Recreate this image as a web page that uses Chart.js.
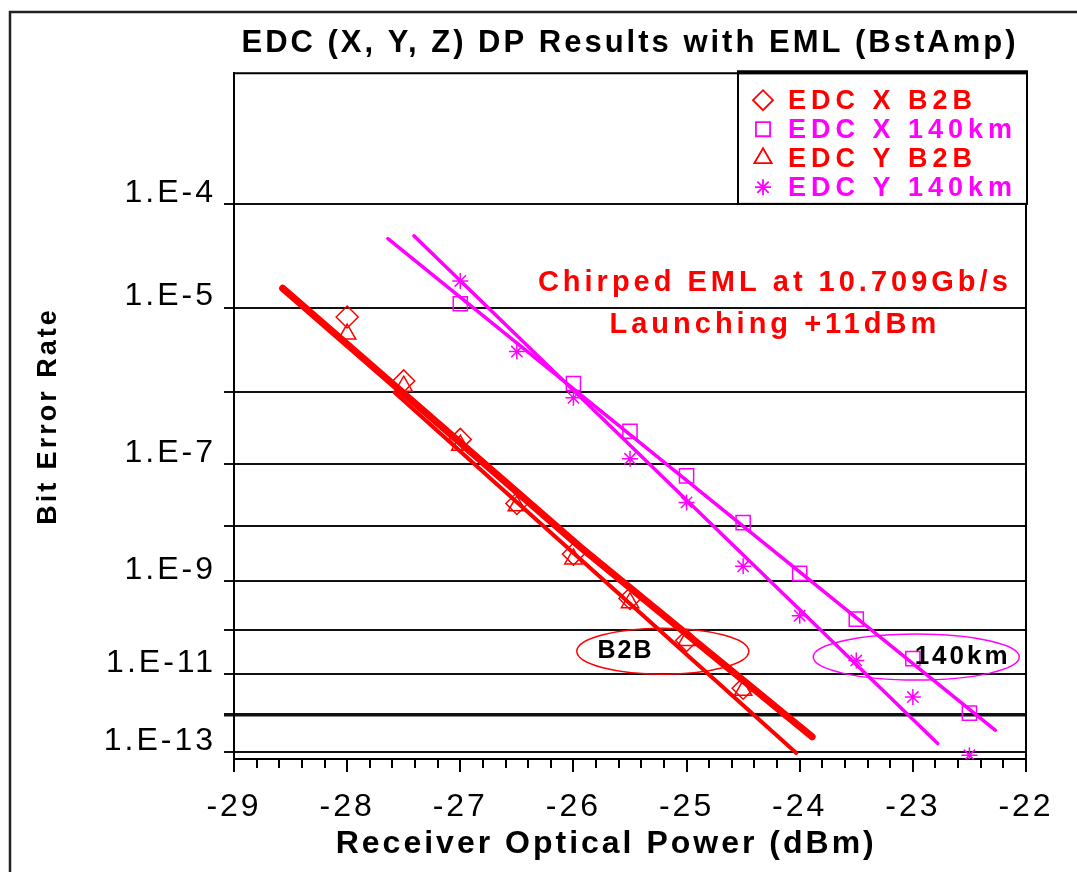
<!DOCTYPE html>
<html>
<head>
<meta charset="utf-8">
<script src="https://cdn.jsdelivr.net/npm/chart.js"></script>
<style>
html,body{margin:0;padding:0;background:#fff;}
#wrap{width:1077px;height:872px;position:relative;}
</style>
</head>
<body>
<div id="wrap"><canvas id="c" width="1077" height="872"></canvas></div>
<script>
// ---------- texts ----------
const chartTitle = 'EDC (X, Y, Z) DP Results with EML (BstAmp)';
const xAxisTitle = 'Receiver Optical Power (dBm)';
const yAxisTitle = 'Bit Error Rate';
const noteLines = ['Chirped EML at 10.709Gb/s', 'Launching +11dBm'];
const b2bNote = 'B2B';
const kmNote = '140km';

// ---------- axes ----------
const xTickValues = [-29, -28, -27, -26, -25, -24, -23, -22];
const berGridExps = [4, 5, 6, 7, 8, 9, 10, 11, 12, 13];
const berLabelExps = [4, 5, 7, 9, 11, 13];

// ---------- series ----------
const seriesLabels = ['EDC X B2B', 'EDC X 140km', 'EDC Y B2B', 'EDC Y 140km'];
const b2bPower = [-28, -27.5, -27, -26.5, -26, -25.5, -25, -24.5];
const edcXB2B = [7.9e-6, 1.4e-6, 2.3e-7, 2.4e-8, 3.2e-9, 4.5e-10, 5.9e-11, 4.6e-12];
const edcYB2B = [5.1e-6, 1.2e-6, 1.9e-7, 2.2e-8, 2.6e-9, 3.7e-10, 5.9e-11, 4.1e-12];
const x140Power = [-27, -26, -25.5, -25, -24.5, -24, -23.5, -23, -22.5];
const edcX140 = [1.1e-5, 1.3e-6, 3.0e-7, 6.6e-8, 1.15e-8, 1.4e-9, 1.7e-10, 2.3e-11, 1.1e-12];
const y140Power = [-27, -26.5, -26, -25.5, -25, -24.5, -24, -23.5, -23, -22.5];
const edcY140 = [1.9e-5, 3.2e-6, 8.5e-7, 1.2e-7, 2.5e-8, 1.9e-9, 2.0e-10, 2.1e-11, 2.8e-12, 8.1e-14];

// ---------- fitted trend lines ----------
const fitXB2BPower = [-28.57, -25.94, -23.89];
const fitXB2BBer = [1.6e-5, 4.3e-9, 2.6e-13];
const fitYB2BPower = [-27.58, -24.03];
const fitYB2BBer = [1.0e-6, 9.3e-14];
const fitX140Power = [-27.64, -22.27];
const fitX140Ber = [4.9e-5, 3.9e-13];
const fitY140Power = [-27.41, -22.78];
const fitY140Ber = [5.2e-5, 1.7e-13];

// ---------- annotation anchors (data units) ----------
const notePower = -24.22;
const noteBer = [1.8e-5, 6.5e-6];
const b2bEllipsePower = -25.21, b2bEllipseBer = 3.4e-11;
const b2bTextPower = -25.54, b2bTextBer = 3.5e-11;
const kmEllipsePower = -22.97, kmEllipseBer = 2.5e-11;
const kmTextPower = -22.56, kmTextBer = 2.5e-11;

// BER axis transform: log10(-log10(BER))
const q = ber => Math.log10(-Math.log10(ber));
const yTopExp = 3.02, yBottomExp = 13.2;

const RED = '#ff0000', MAG = '#ff00ff';
const FONT = '"Liberation Sans", Arial, Helvetica, sans-serif';

const pts = (xs, ys) => xs.map((x, i) => ({ x: x, y: q(ys[i]) }));

const datasets = [
  { label: seriesLabels[0], data: pts(b2bPower, edcXB2B), showLine: false, pointStyle: 'rectRot', pointRadius: 11, borderColor: RED, backgroundColor: 'rgba(0,0,0,0)', pointBorderWidth: 1.5 },
  { label: seriesLabels[1], data: pts(x140Power, edcX140), showLine: false, pointStyle: 'rect', pointRadius: 10, borderColor: MAG, backgroundColor: 'rgba(0,0,0,0)', pointBorderWidth: 1.5 },
  { label: seriesLabels[2], data: pts(b2bPower, edcYB2B), showLine: false, pointStyle: 'triangle', pointRadius: 10, borderColor: RED, backgroundColor: 'rgba(0,0,0,0)', pointBorderWidth: 1.5 },
  { label: seriesLabels[3], data: pts(y140Power, edcY140), showLine: false, pointStyle: 'star', pointRadius: 8, borderColor: MAG, backgroundColor: 'rgba(0,0,0,0)', pointBorderWidth: 1.5 },
  { label: 'fit X B2B', isFit: true, data: pts(fitXB2BPower, fitXB2BBer), showLine: true, pointRadius: 0, borderColor: RED, borderWidth: 7, borderCapStyle: 'round', borderJoinStyle: 'round', fill: false },
  { label: 'fit Y B2B', isFit: true, data: pts(fitYB2BPower, fitYB2BBer), showLine: true, pointRadius: 0, borderColor: RED, borderWidth: 4, borderCapStyle: 'round', fill: false },
  { label: 'fit X 140km', isFit: true, data: pts(fitX140Power, fitX140Ber), showLine: true, pointRadius: 0, borderColor: MAG, borderWidth: 3.5, borderCapStyle: 'round', fill: false },
  { label: 'fit Y 140km', isFit: true, data: pts(fitY140Power, fitY140Ber), showLine: true, pointRadius: 0, borderColor: MAG, borderWidth: 3.5, borderCapStyle: 'round', fill: false }
];

function drawMarker(ctx, style, r, x, y) {
  if (Chart.helpers && Chart.helpers.drawPoint) {
    Chart.helpers.drawPoint(ctx, { pointStyle: style, radius: r, borderWidth: ctx.lineWidth, rotation: 0 }, x, y);
  } else {
    ctx.beginPath(); ctx.arc(x, y, r, 0, Math.PI * 2); ctx.stroke();
  }
}

const spacingPlugin = {
  id: 'spacing',
  beforeDraw(chart) { chart.ctx.letterSpacing = '3px'; },
  afterDraw(chart) { chart.ctx.letterSpacing = '0px'; }
};

const decorPlugin = {
  id: 'decor',
  afterDatasetsDraw(chart) {
    const ctx = chart.ctx, xs = chart.scales.x, ys = chart.scales.y;
    ctx.save();
    // annotation text
    ctx.letterSpacing = '4px';
    ctx.fillStyle = RED;
    ctx.font = 'bold 29px ' + FONT;
    ctx.textAlign = 'center';
    ctx.textBaseline = 'middle';
    noteLines.forEach((t, i) => ctx.fillText(t, xs.getPixelForValue(notePower), ys.getPixelForValue(q(noteBer[i]))));
    // ellipses
    ctx.lineWidth = 1.5;
    ctx.strokeStyle = RED;
    ctx.beginPath();
    ctx.ellipse(xs.getPixelForValue(b2bEllipsePower), ys.getPixelForValue(q(b2bEllipseBer)), 86, 23, 0, 0, Math.PI * 2);
    ctx.stroke();
    ctx.strokeStyle = MAG;
    ctx.beginPath();
    ctx.ellipse(xs.getPixelForValue(kmEllipsePower), ys.getPixelForValue(q(kmEllipseBer)), 103, 23, 0, 0, Math.PI * 2);
    ctx.stroke();
    ctx.fillStyle = '#000';
    ctx.letterSpacing = '2px';
    ctx.font = 'bold 25px ' + FONT;
    ctx.fillText(b2bNote, xs.getPixelForValue(b2bTextPower), ys.getPixelForValue(q(b2bTextBer)));
    ctx.letterSpacing = '3px';
    ctx.font = 'bold 26px ' + FONT;
    ctx.fillText(kmNote, xs.getPixelForValue(kmTextPower), ys.getPixelForValue(q(kmTextBer)));
    ctx.restore();
  },
  afterDraw(chart) {
    const ctx = chart.ctx, a = chart.chartArea, xs = chart.scales.x, ys = chart.scales.y;
    ctx.save();
    ctx.letterSpacing = '0px';
    // minor x ticks every 0.2 dBm
    ctx.strokeStyle = '#000';
    ctx.lineWidth = 2;
    ctx.beginPath();
    for (let k = 0; k <= 35; k++) {
      const v = xs.min + k * 0.2;
      const px = Math.round(xs.getPixelForValue(v));
      ctx.moveTo(px, a.bottom);
      ctx.lineTo(px, a.bottom + 9);
    }
    ctx.stroke();
    // plot frame (top / right)
    ctx.beginPath();
    ctx.moveTo(a.left, a.top); ctx.lineTo(a.right, a.top); ctx.lineTo(a.right, a.bottom);
    ctx.stroke();
    // legend box
    const x0 = a.right - 288, y0 = a.top, x1 = a.right + 1, y1 = ys.getPixelForValue(q(1e-4));
    ctx.fillStyle = '#fff';
    ctx.fillRect(x0, y0, x1 - x0, y1 - y0);
    ctx.lineWidth = 2;
    ctx.strokeRect(x0, y0, x1 - x0, y1 - y0);
    ctx.lineWidth = 4;
    ctx.beginPath(); ctx.moveTo(x0 - 1, y0 - 1); ctx.lineTo(x1 + 1, y0 - 1); ctx.stroke();
    const items = chart.data.datasets.filter(d => !d.isFit);
    items.forEach((d, i) => {
      const cy = y0 + 27 + i * 29;
      ctx.strokeStyle = d.borderColor;
      ctx.fillStyle = 'rgba(0,0,0,0)';
      ctx.lineWidth = 1.8;
      drawMarker(ctx, d.pointStyle, Math.min(d.pointRadius, 10), x0 + 25, cy);
      ctx.fillStyle = d.borderColor;
      ctx.font = 'bold 27px ' + FONT;
      ctx.letterSpacing = '5px';
      ctx.textAlign = 'left';
      ctx.textBaseline = 'middle';
      ctx.fillText(d.label, x0 + 50, cy + 1);
      ctx.letterSpacing = '0px';
    });
    // outer frame
    ctx.strokeStyle = '#222';
    ctx.lineWidth = 2.5;
    ctx.strokeRect(10, 12, 1100, 900);
    ctx.restore();
  }
};

Chart.defaults.font.family = FONT;
Chart.defaults.color = '#000';

new Chart(document.getElementById('c'), {
  type: 'scatter',
  data: { datasets: datasets },
  options: {
    responsive: false,
    animation: false,
    devicePixelRatio: 1,
    layout: { padding: { left: 0, right: 51, top: 0, bottom: 0 } },
    plugins: {
      legend: { display: false },
      tooltip: { enabled: false },
      title: {
        display: true,
        text: chartTitle,
        fullSize: false,
        color: '#000',
        font: { size: 31, weight: 'bold', family: FONT },
        padding: { top: 25, bottom: 11 }
      }
    },
    scales: {
      x: {
        type: 'linear',
        min: -29,
        max: -22,
        afterBuildTicks: s => { s.ticks = xTickValues.map(v => ({ value: v })); },
        afterFit: s => { s.height = 113; },
        ticks: { callback: v => String(v), font: { size: 32, family: FONT }, color: '#000', padding: 16 },
        grid: { drawOnChartArea: false, drawTicks: true, tickLength: 13, color: '#000', lineWidth: 2 },
        border: { display: true, color: '#000', width: 2 },
        title: { display: true, text: xAxisTitle + '    ', color: '#000', font: { size: 32, weight: 'bold', family: FONT }, padding: { top: 0, bottom: 9 } }
      },
      y: {
        type: 'linear',
        reverse: true,
        min: q(Math.pow(10, -yTopExp)),
        max: q(Math.pow(10, -yBottomExp)),
        afterBuildTicks: s => { s.ticks = berGridExps.map(n => ({ value: q(Math.pow(10, -n)) })); },
        afterFit: s => { s.width = 234; },
        ticks: {
          callback: v => { const n = Math.round(Math.pow(10, v)); return berLabelExps.includes(n) ? '1.E-' + n : ''; },
          font: { size: 32, family: FONT },
          color: '#000',
          padding: 8,
          labelOffset: -11
        },
        grid: {
          color: '#111',
          lineWidth: c => (c.tick && Math.round(Math.pow(10, c.tick.value)) === 12) ? 3.5 : 2,
          tickLength: 10,
          drawTicks: true
        },
        border: { display: true, color: '#000', width: 2 },
        title: { display: true, text: yAxisTitle, color: '#000', font: { size: 27, weight: 'bold', family: FONT }, padding: { top: 32, bottom: 0 } }
      }
    }
  },
  plugins: [spacingPlugin, decorPlugin]
});
</script>
</body>
</html>
